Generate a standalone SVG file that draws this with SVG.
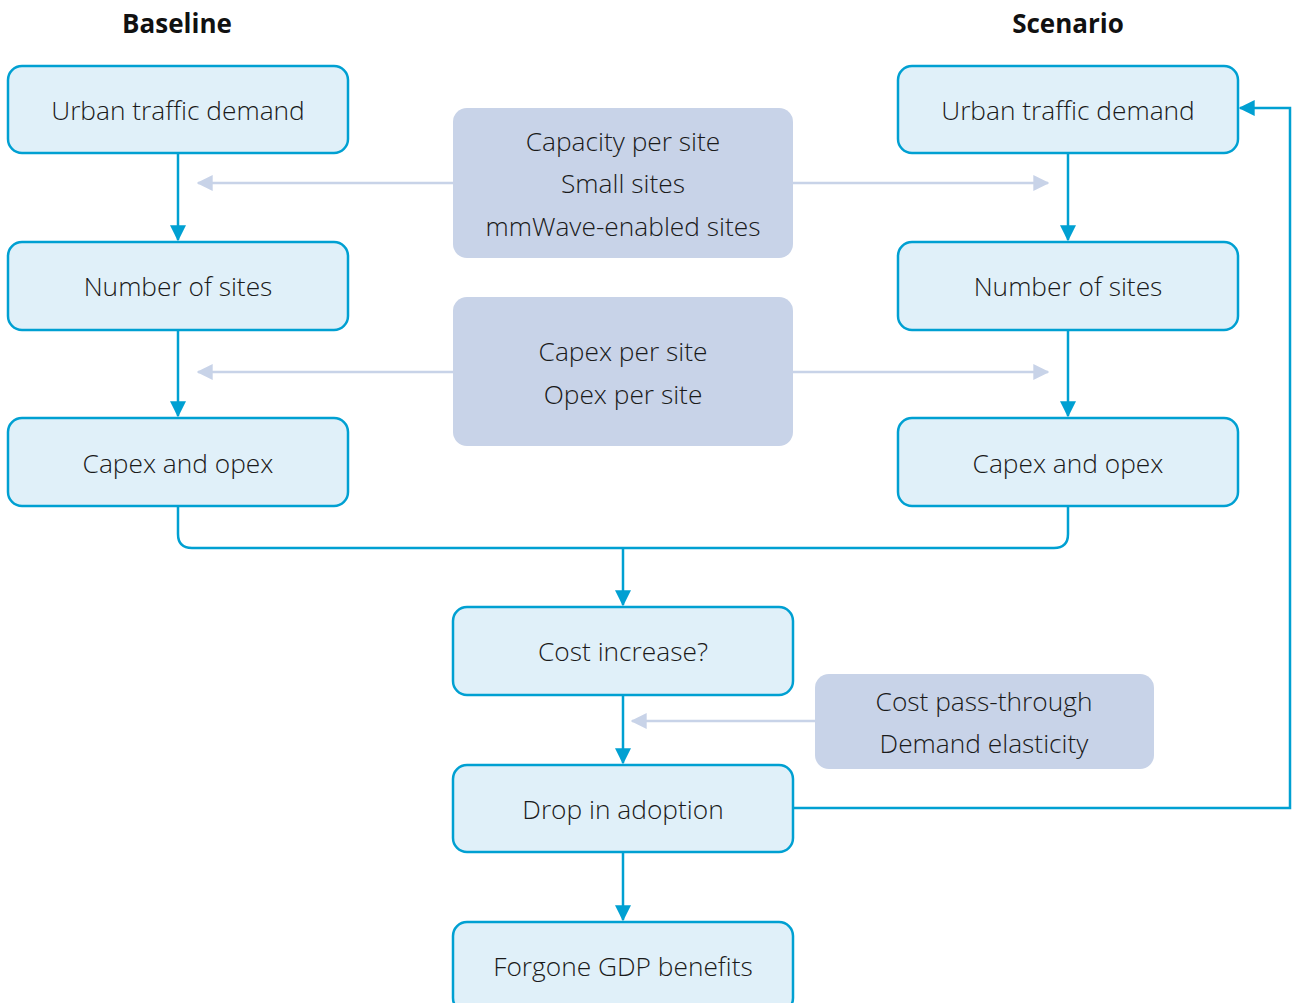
<svg xmlns="http://www.w3.org/2000/svg" width="1292" height="1003" viewBox="0 0 1292 1003">
  <style>
    .box { fill: #e0f0f9; stroke: #00a0d2; stroke-width: 2.5; }
    .param { fill: #c8d3e8; stroke: none; }
    .lbl { font-family: "Open Sans", "Liberation Sans", sans-serif; font-weight: 300; font-size: 26.3px; fill: #1a1a1a; text-anchor: middle; }
    .head { font-family: "Open Sans", "Liberation Sans", sans-serif; font-weight: 700; font-size: 26px; fill: #111; text-anchor: middle; }
    .flow { fill: none; stroke: #00a0d2; stroke-width: 2.5; }
    .feed { fill: none; stroke: #c8d3e8; stroke-width: 2.5; }
  </style>
  <defs>
    <marker id="blueHead" viewBox="0 0 12 12" refX="11" refY="6" markerWidth="6.4" markerHeight="6.4" markerUnits="strokeWidth" orient="auto">
      <path d="M0,0 L12,6 L0,12 Z" fill="#00a0d2"/>
    </marker>
    <marker id="greyHead" viewBox="0 0 12 12" refX="11" refY="6" markerWidth="6.4" markerHeight="6.4" markerUnits="strokeWidth" orient="auto">
      <path d="M0,0 L12,6 L0,12 Z" fill="#c8d3e8"/>
    </marker>
  </defs>

  <text class="head" x="177" y="33">Baseline</text>
  <text class="head" x="1068" y="33">Scenario</text>

  <g id="connectors">
    <!-- baseline chain -->
    <line class="flow" x1="178" y1="154" x2="178" y2="240" marker-end="url(#blueHead)"/>
    <line class="flow" x1="178" y1="330" x2="178" y2="416" marker-end="url(#blueHead)"/>
    <!-- scenario chain -->
    <line class="flow" x1="1068" y1="154" x2="1068" y2="240" marker-end="url(#blueHead)"/>
    <line class="flow" x1="1068" y1="330" x2="1068" y2="416" marker-end="url(#blueHead)"/>
    <!-- merge of both columns -->
    <path class="flow" d="M178,506 V534 Q178,548 192,548 H1054 Q1068,548 1068,534 V506"/>
    <line class="flow" x1="623" y1="548" x2="623" y2="605" marker-end="url(#blueHead)"/>
    <line class="flow" x1="623" y1="695" x2="623" y2="763" marker-end="url(#blueHead)"/>
    <line class="flow" x1="623" y1="852" x2="623" y2="920" marker-end="url(#blueHead)"/>
    <!-- feedback loop -->
    <polyline class="flow" points="793,808 1290,808 1290,108 1240,108" marker-end="url(#blueHead)"/>
    <!-- parameter inputs -->
    <line class="feed" x1="453" y1="183" x2="198" y2="183" marker-end="url(#greyHead)"/>
    <line class="feed" x1="793" y1="183" x2="1048" y2="183" marker-end="url(#greyHead)"/>
    <line class="feed" x1="453" y1="372" x2="198" y2="372" marker-end="url(#greyHead)"/>
    <line class="feed" x1="793" y1="372" x2="1048" y2="372" marker-end="url(#greyHead)"/>
    <line class="feed" x1="815" y1="721" x2="632" y2="721" marker-end="url(#greyHead)"/>
  </g>

  <g id="base-demand">
    <rect class="box" x="8" y="66" width="340" height="87" rx="14"/>
    <text class="lbl" x="178" y="120">Urban traffic demand</text>
  </g>
  <g id="base-sites">
    <rect class="box" x="8" y="242" width="340" height="88" rx="14"/>
    <text class="lbl" x="178" y="296">Number of sites</text>
  </g>
  <g id="base-cost">
    <rect class="box" x="8" y="418" width="340" height="88" rx="14"/>
    <text class="lbl" x="178" y="473">Capex and opex</text>
  </g>

  <g id="scen-demand">
    <rect class="box" x="898" y="66" width="340" height="87" rx="14"/>
    <text class="lbl" x="1068" y="120">Urban traffic demand</text>
  </g>
  <g id="scen-sites">
    <rect class="box" x="898" y="242" width="340" height="88" rx="14"/>
    <text class="lbl" x="1068" y="296">Number of sites</text>
  </g>
  <g id="scen-cost">
    <rect class="box" x="898" y="418" width="340" height="88" rx="14"/>
    <text class="lbl" x="1068" y="473">Capex and opex</text>
  </g>

  <g id="capacity-params">
    <rect class="param" x="453" y="108" width="340" height="150" rx="14"/>
    <text class="lbl" x="623" y="151">Capacity per site</text>
    <text class="lbl" x="623" y="193">Small sites</text>
    <text class="lbl" x="623" y="236">mmWave-enabled sites</text>
  </g>
  <g id="cost-params">
    <rect class="param" x="453" y="297" width="340" height="149" rx="14"/>
    <text class="lbl" x="623" y="361">Capex per site</text>
    <text class="lbl" x="623" y="404">Opex per site</text>
  </g>

  <g id="cost-increase">
    <rect class="box" x="453" y="607" width="340" height="88" rx="14"/>
    <text class="lbl" x="623" y="661">Cost increase?</text>
  </g>
  <g id="market-params">
    <rect class="param" x="815" y="674" width="339" height="95" rx="14"/>
    <text class="lbl" x="984" y="711">Cost pass-through</text>
    <text class="lbl" x="984" y="753">Demand elasticity</text>
  </g>
  <g id="adoption-drop">
    <rect class="box" x="453" y="765" width="340" height="87" rx="14"/>
    <text class="lbl" x="623" y="819">Drop in adoption</text>
  </g>
  <g id="gdp-loss">
    <rect class="box" x="453" y="922" width="340" height="90" rx="14"/>
    <text class="lbl" x="623" y="976">Forgone GDP benefits</text>
  </g>
</svg>
